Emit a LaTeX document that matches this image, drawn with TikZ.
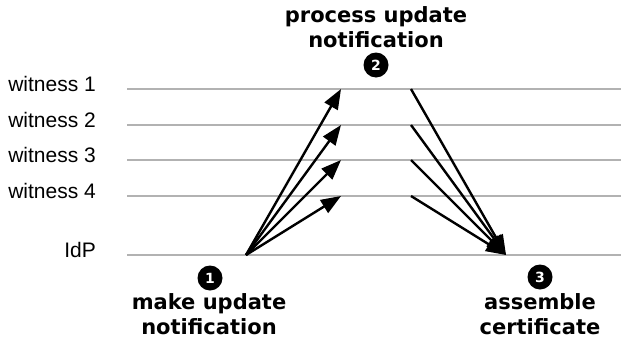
\documentclass[tikz,border=0pt]{standalone}
\usepackage{fontspec}
\setmainfont{Liberation Sans}
\newfontfamily\titlefont{DejaVu Sans}
\usetikzlibrary{arrows.meta}
\begin{document}
\begin{tikzpicture}[x=1pt,y=-1pt,
  lane/.style={draw=black!30, line width=1.4pt},
  lanelabel/.style={anchor=mid east, inner sep=0pt, font=\fontsize{21}{24}\selectfont},
  msg/.style={draw=black, line width=2.4pt, -{Triangle[length=20pt,width=15pt]}},
  steplabel/.style={align=center, inner sep=0pt, font=\titlefont\bfseries\fontsize{21}{24.5}\selectfont},
  stepnum/.style={circle, fill=black, text=white, minimum size=25pt, inner sep=0pt, font=\titlefont\bfseries\fontsize{14}{14}\selectfont}
]
\useasboundingbox (0,0) rectangle (621,343);
% lanes
\foreach \n/\y/\t in {w1/89/witness 1, w2/125/witness 2, w3/160/witness 3, w4/196/witness 4, idp/255/IdP} {
  \coordinate (\n L) at (127,\y);
  \coordinate (\n R) at (621,\y);
  \node[lanelabel] (\n lab) at (96,\y) {\t};
  \draw[lane] (\n L) -- (\n R);
}
% arrow end points
\coordinate (src) at (246,255);
\coordinate (dst) at (506,255);
\foreach \n/\y in {w1/89, w2/125, w3/160, w4/196} {
  \coordinate (\n in) at (341,\y);
  \coordinate (\n out) at (411,\y);
}
\foreach \n in {w1,w2,w3,w4} {
  \draw[msg] (src) -- (\n in);
  \draw[msg] (\n out) -- (dst);
}
% step labels
\node[steplabel] (s2) at (376,27) {process update\\notification};
\node[stepnum] (n2) at (376,65) {2};
\node[stepnum] (n1) at (210,278) {1};
\node[steplabel] (s1) at (209,314) {make update\\notification};
\node[stepnum] (n3) at (540,277) {3};
\node[steplabel] (s3) at (540,314) {assemble\\certificate};
\end{tikzpicture}
\end{document}
